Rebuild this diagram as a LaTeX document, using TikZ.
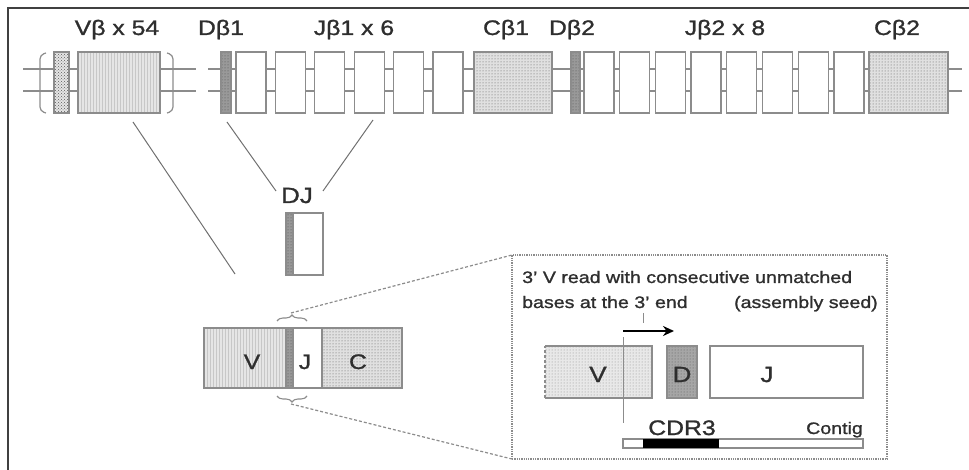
\documentclass[tikz,border=0pt]{standalone}
\usepackage{fontspec}
\setmainfont{Liberation Sans}[FakeStretch=1.18,FakeBold=1.2]
\usetikzlibrary{patterns,decorations.pathreplacing,arrows.meta}
\definecolor{lg}{HTML}{8C8C8C}
\definecolor{tx}{HTML}{2E2E2E}
\definecolor{ln}{HTML}{707070}
\begin{document}
\begin{tikzpicture}[x=1pt,y=-1pt,
  bx/.style={draw=lg, line width=1.3pt, inner sep=0pt, outer sep=0pt, anchor=north west},
  gbox/.style={bx, minimum height=61pt},
  jbox/.style={gbox, fill=white, minimum width=30pt},
  vpat/.style={preaction={fill=black!10}, pattern=vertical lines, pattern color=black!22},
  cpat/.style={preaction={fill=black!12}, pattern=dots, pattern color=black!65},
  xpat/.style={preaction={fill=black!10}, pattern=crosshatch dots, pattern color=black!65},
  dpat/.style={preaction={fill=black!40}, pattern=dots, pattern color=black!70},
  ipat/.style={preaction={fill=black!9}, pattern=dots, pattern color=black!45},
  idpat/.style={preaction={fill=black!35}, pattern=dots, pattern color=black!65},
  lab/.style={text=tx, inner sep=0pt, anchor=base, font=\fontsize{21pt}{25pt}\selectfont},
  slab/.style={text=tx, inner sep=0pt, font=\fontsize{16.6pt}{20pt}\selectfont},
  strand/.style={draw=lg, line width=1.2pt},
  conn/.style={draw=ln, line width=1pt},
  zoomline/.style={draw=lg, line width=1.2pt, densely dashed},
]
\useasboundingbox (0,0) rectangle (969,470);
% outer frame
\draw[line width=2pt, black!75] (8,472) -- (8,8) -- (971,8);

% strands
\foreach \yy in {69,91} {
  \draw[strand] (23,\yy) -- (196,\yy);
  \draw[strand] (208,\yy) -- (962,\yy);
}
% brackets
\draw[strand, rounded corners=4pt] (46,53) -- (40,55) -- (40,111) -- (46,113);
\draw[strand, rounded corners=4pt] (167,53) -- (173,55) -- (173,111) -- (167,113);

% V segment
\node[gbox, xpat, minimum width=15pt] (lv) at (54,52) {};
\node[gbox, vpat, minimum width=82pt] (vb) at (78,52) {};
% D1, J1, C1
\node[gbox, dpat, minimum width=10pt] (d1) at (221,52) {};
\foreach \i in {0,...,5} {
  \node[jbox] (j1-\i) at ({236+39.4*\i},52) {};
}
\node[gbox, cpat, minimum width=78pt] (c1) at (474,52) {};
% D2, J2, C2
\node[gbox, dpat, minimum width=9pt] (d2) at (571,52) {};
\foreach \i in {0,...,7} {
  \node[jbox] (j2-\i) at ({584+35.7*\i},52) {};
}
\node[gbox, cpat, minimum width=79pt] (c2) at (869,52) {};

% top labels
\node[lab] (lvb) at (117,35) {Vβ x 54};
\node[lab] (ld1) at (221,35) {Dβ1};
\node[lab] (lj1) at (354,35) {Jβ1 x 6};
\node[lab] (lc1) at (506,35) {Cβ1};
\node[lab] (ld2) at (572,35) {Dβ2};
\node[lab] (lj2) at (725,35) {Jβ2 x 8};
\node[lab] (lc2) at (897,35) {Cβ2};

% DJ
\node[lab, font=\fontsize{22pt}{26pt}\selectfont] (dj) at (297,203) {DJ};
\node[bx, fill=white, minimum width=37pt, minimum height=62pt] (djb) at (286,213) {};
\node[bx, dpat, minimum width=7pt, minimum height=62pt] (djd) at (286,213) {};

% connector lines
\coordinate (vs) at (133,122);
\coordinate (ve) at (235,274);
\coordinate (ds) at (227,122);
\coordinate (de) at (276,191);
\coordinate (js) at (373,120);
\coordinate (je) at (323,191);
\draw[conn] (vs) -- (ve);
\draw[conn] (ds) -- (de);
\draw[conn] (js) -- (je);

% VJC rearranged
\node[bx, vpat, minimum width=82pt, minimum height=60pt] (rv) at (204,328) {};
\node[bx, dpat, minimum width=7pt, minimum height=60pt] (rd) at (286,328) {};
\node[bx, fill=white, minimum width=29pt, minimum height=60pt] (rj) at (293,328) {};
\node[bx, cpat, minimum width=80pt, minimum height=60pt] (rc) at (322,328) {};
\node[lab] (lrv) at (252,369) {V};
\node[lab] (lrj) at (305,369) {J};
\node[lab] (lrc) at (358,369) {C};

% braces
\draw[strand, line width=1.1pt, decorate, decoration={brace, amplitude=6pt}] (277,321) -- (307,321);
\draw[strand, line width=1.1pt, decorate, decoration={brace, amplitude=6pt}] (307,396) -- (277,396);
\coordinate (bt) at (291,313);
\coordinate (bb) at (291,404);

% inset
\node[bx, densely dotted, minimum width=375pt, minimum height=204pt] (inset) at (512,255) {};
\draw[zoomline] (bt) -- (inset.north west);
\draw[zoomline] (bb) -- (inset.south west);

\node[slab, anchor=base west] (t1) at (522,283) {3' V read with consecutive unmatched};
\node[slab, anchor=base west] (t2) at (522,308) {bases at the 3' end};
\node[slab, anchor=base east] (t3) at (878,308) {(assembly seed)};

% tick and arrow
\coordinate (tk1) at (643,313);
\coordinate (tk2) at (643,323);
\draw[lg, line width=0.8pt] (tk1) -- (tk2);
\coordinate (as) at (623,331);
\coordinate (ae) at (674,331);
\draw[-{Stealth[length=11pt,width=10pt]}, line width=2.8pt, black] (as) -- (ae);

% inset boxes
\node[inner sep=0pt, outer sep=0pt, anchor=north west, ipat, minimum width=107pt, minimum height=52pt] (iv) at (545,346) {};
\draw[lg, line width=1.3pt] (iv.north west) -- (iv.north east) -- (iv.south east) -- (iv.south west);
\draw[lg, line width=1.3pt, densely dashed] (iv.south west) -- (iv.north west);
\node[bx, idpat, minimum width=30pt, minimum height=52pt] (idb) at (667,346) {};
\node[bx, fill=white, minimum width=153pt, minimum height=52pt] (ijb) at (710,346) {};
\node[lab, font=\fontsize{22pt}{26pt}\selectfont] (liv) at (598,382) {V};
\node[lab, font=\fontsize{22pt}{26pt}\selectfont] (lid) at (682,382) {D};
\node[lab, font=\fontsize{22pt}{26pt}\selectfont] (lij) at (767,382) {J};

% vertical read line
\coordinate (rl1) at (623,337);
\coordinate (rl2) at (623,423);
\draw[lg, line width=0.8pt] (rl1) -- (rl2);

% contig
\node[bx, fill=white, minimum width=240pt, minimum height=9pt] (contig) at (623,439) {};
\node[inner sep=0pt, outer sep=0pt, anchor=north west, fill=black, minimum width=76pt, minimum height=9pt] (cdr) at (643,439) {};
\node[lab] (lcdr) at (682,435) {CDR3};
\node[slab, anchor=base east] (lcon) at (863,434) {Contig};
\end{tikzpicture}
\end{document}
